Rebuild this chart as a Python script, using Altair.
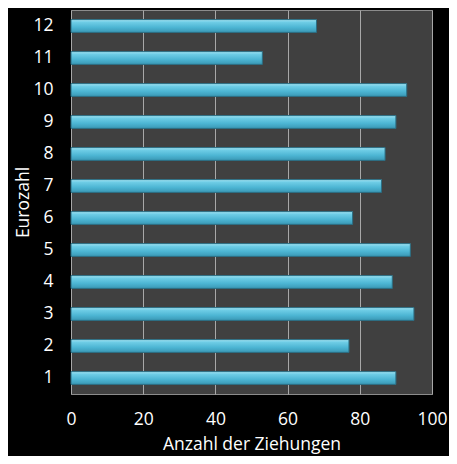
import altair as alt
import pandas as pd

# ── Data ─────────────────────────────────────────────────────────────────────
eurozahl = [1, 2, 3, 4, 5, 6, 7, 8, 9, 10, 11, 12]
ziehungen = [90, 77, 95, 89, 94, 78, 86, 87, 90, 93, 53, 68]

df = pd.DataFrame({'Eurozahl': eurozahl, 'Ziehungen': ziehungen})

font = 'Open Sans'

bar_fill = alt.Gradient(
    gradient='linear',
    stops=[
        alt.GradientStop(color='#a6e6f5', offset=0),
        alt.GradientStop(color='#6fcde6', offset=0.2),
        alt.GradientStop(color='#4db6d4', offset=0.6),
        alt.GradientStop(color='#3a98b5', offset=1),
    ],
    x1=0, x2=0, y1=0, y2=1,
)

bars = alt.Chart(df).mark_bar(
    fill=bar_fill,
    stroke='#2c6f84',
    strokeWidth=1,
).encode(
    x=alt.X('Ziehungen:Q',
            scale=alt.Scale(domain=[0, 100], nice=False),
            axis=alt.Axis(values=[0, 20, 40, 60, 80, 100],
                          title='Anzahl der Ziehungen',
                          ticks=False, domain=False, labelFlush=False,
                          grid=True, gridColor='#a8a8a8', gridWidth=1,
                          labelPadding=16, titlePadding=8)),
    y=alt.Y('Eurozahl:O',
            sort='descending',
            scale=alt.Scale(paddingInner=0.6, paddingOuter=0.3),
            axis=alt.Axis(title='Eurozahl', ticks=False, domain=False,
                          labelPadding=18, titlePadding=0)),
).properties(
    width=361,
    height=384,
    background='black',
    padding={'left': 63, 'top': 2, 'right': 17, 'bottom': 62},
    autosize=alt.AutoSizeParams(type='none'),
)

chart = bars.configure_view(
    fill='#404040',
    stroke='#8c8c8c',
    strokeWidth=1,
).configure_axis(
    labelColor='white',
    titleColor='white',
    labelFont=font,
    titleFont=font,
    labelFontSize=17.5,
    titleFontSize=17.5,
    titleFontWeight='normal',
)

chart.save("out.html", embed_options={"renderer": "svg", "actions": False})
